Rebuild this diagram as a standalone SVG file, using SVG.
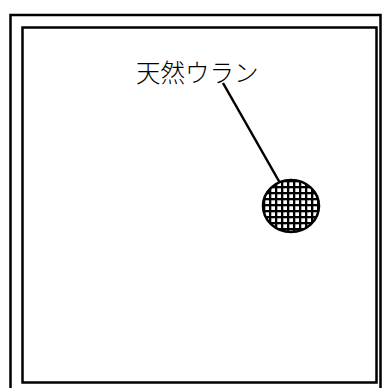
<svg xmlns="http://www.w3.org/2000/svg" width="382" height="388" viewBox="0 0 382 388">
<defs>
<pattern id="grid" patternUnits="userSpaceOnUse" width="6" height="6" x="263" y="180">
<rect width="6" height="6" fill="#fff"/>
<rect width="2.3" height="6" fill="#000"/>
<rect width="6" height="2.3" fill="#000"/>
</pattern>
<style>
.frame{fill:none;stroke:#000;stroke-width:2.5}
.lbl{font-family:"Noto Sans CJK JP","Noto Sans CJK SC",sans-serif;font-size:24.5px;font-weight:300;fill:#000}
.conn{stroke:#000;stroke-width:2.5;fill:none}
</style>
</defs>
<rect width="382" height="388" fill="#fff"/>
<g id="outer-frame"><rect class="frame" x="10.5" y="15" width="370" height="380"/></g>
<g id="inner-frame"><rect class="frame" x="22.5" y="27.5" width="354" height="355"/></g>
<g id="connectors"><line class="conn" x1="223" y1="83" x2="280" y2="183"/></g>
<g id="label"><text class="lbl" x="136" y="82">天然ウラン</text></g>
<g id="uranium"><ellipse cx="291" cy="206" rx="28" ry="26" fill="url(#grid)" stroke="#000" stroke-width="2.5"/></g>
</svg>
